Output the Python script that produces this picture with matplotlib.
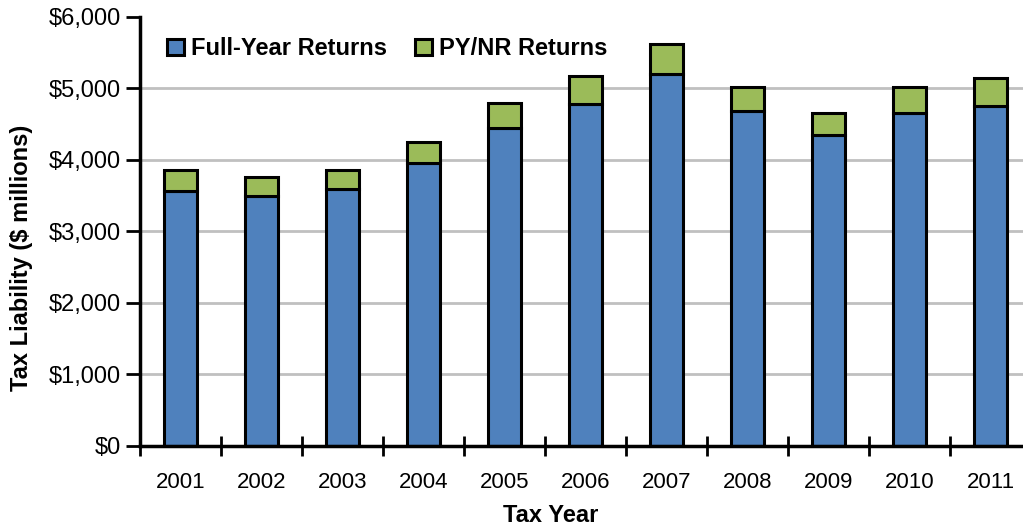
import numpy as np
import matplotlib
matplotlib.use("Agg")
import matplotlib.pyplot as plt
from matplotlib.ticker import FuncFormatter

years = ["2001", "2002", "2003", "2004", "2005", "2006",
         "2007", "2008", "2009", "2010", "2011"]
full_year = [3566, 3487, 3594, 3954, 4443, 4783, 5203, 4685, 4350, 4653, 4755]
py_nr = [294, 265, 266, 298, 350, 392, 410, 332, 307, 364, 388]
y_ticks = [0, 1000, 2000, 3000, 4000, 5000, 6000]

plt.rcParams["font.family"] = ["Liberation Sans", "DejaVu Sans"]

fig = plt.figure(figsize=(10.23, 5.25), dpi=100)
ax = fig.add_axes([0.1369, 0.1505, 0.8631, 0.818])

x = np.arange(len(years))
ax.bar(x, full_year, width=0.4, color="#4F81BD", edgecolor="black",
       linewidth=2.2, label="Full-Year Returns", zorder=3)
ax.bar(x, py_nr, width=0.4, bottom=full_year, color="#9BBB59",
       edgecolor="black", linewidth=2.2, label="PY/NR Returns", zorder=3)

# gridlines (none at the top)
for v in y_ticks[1:-1]:
    ax.axhline(v, color="#c0c0c0", linewidth=2, zorder=1)

ax.set_xlim(-0.5, 10.4)
ax.set_ylim(0, 6000)
ax.set_yticks(y_ticks)
ax.yaxis.set_major_formatter(FuncFormatter(lambda v, p: "${:,.0f}".format(v)))

ax.set_xticks(x)
ax.set_xticklabels(years)
ax.set_xticks(np.arange(-0.5, 10.5, 1.0), minor=True)
ax.tick_params(axis="x", which="major", length=0, labelsize=16, pad=19)
ax.tick_params(axis="x", which="minor", direction="inout", length=14, width=2)
ax.tick_params(axis="y", which="major", direction="out", length=10, width=2,
               labelsize=17, pad=4)

for s in ["top", "right"]:
    ax.spines[s].set_visible(False)
for s in ["left", "bottom"]:
    ax.spines[s].set_linewidth(2.5)
    ax.spines[s].set_zorder(4)

ax.set_xlabel("Tax Year", fontsize=17, fontweight="bold")
ax.set_ylabel("Tax Liability ($ millions)", fontsize=17, fontweight="bold")
ax.xaxis.set_label_coords(0.4655, -0.135)
ax.yaxis.set_label_coords(-0.121, 0.438)

leg = ax.legend(loc="upper left", bbox_to_anchor=(0.012, 0.99), ncol=2,
                frameon=False, handlelength=0.7, handleheight=0.7,
                handletextpad=0.3, columnspacing=1.2, borderaxespad=0.3,
                prop={"size": 17, "weight": "bold"})

fig.savefig("out.png", dpi=100)
